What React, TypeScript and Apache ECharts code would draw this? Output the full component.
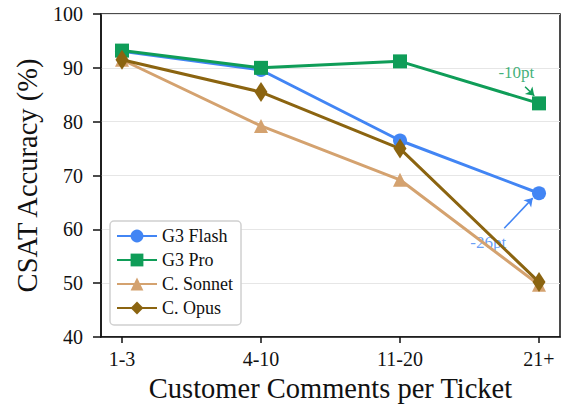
import React, { useEffect, useRef } from "react";
import * as echarts from "echarts";

const categories = ["1-3", "4-10", "11-20", "21+"];
const g3Flash = [93.1, 89.6, 76.5, 66.7];
const g3Pro = [93.2, 90.0, 91.2, 83.4];
const cSonnet = [91.5, 79.2, 69.2, 49.7];
const cOpus = [91.5, 85.5, 75.0, 50.2];

const FONT = "Liberation Serif";

export default function App() {
  const ref = useRef<HTMLDivElement>(null);
  useEffect(() => {
    const chart = echarts.init(ref.current!, null, { renderer: "svg" });
    const mk = (name: string, data: number[], color: string, symbol: string, size: any) => ({
      name,
      type: "line",
      data: data.map((v, i) => [i, v]),
      symbol,
      symbolSize: size,
      itemStyle: { color },
      lineStyle: { color, width: 3 },
      z: 3,
    });
    chart.setOption({
      animation: false,
      textStyle: { fontFamily: FONT },
      grid: { left: 101, right: 2, top: 14, bottom: 70, show: true, borderColor: "#111", borderWidth: 1.5 },
      xAxis: {
        type: "value",
        min: -0.151,
        max: 3.151,
        interval: 1,
        name: "Customer Comments per Ticket",
        nameLocation: "middle",
        nameGap: 37,
        nameTextStyle: { fontSize: 28.5, color: "#111", fontFamily: FONT },
        axisLine: { show: true, onZero: false, lineStyle: { color: "#111", width: 1.5 } },
        axisTick: { show: true, length: 6, lineStyle: { color: "#111", width: 1.5 }, customValues: [0, 1, 2, 3] },
        axisLabel: {
          fontSize: 20,
          color: "#111",
          fontFamily: FONT,
          margin: 12,
          customValues: [0, 1, 2, 3],
          formatter: (v: number) => categories[Math.round(v)] ?? "",
        },
        splitLine: { show: false },
      },
      yAxis: {
        type: "value",
        min: 40,
        max: 100,
        interval: 10,
        name: "CSAT Accuracy (%)",
        nameLocation: "middle",
        nameGap: 57,
        nameTextStyle: { fontSize: 28.5, color: "#111", fontFamily: FONT },
        axisLine: { show: true, onZero: false, lineStyle: { color: "#111", width: 1.5 } },
        axisTick: { show: true, length: 8, lineStyle: { color: "#111", width: 1.5 } },
        axisLabel: { fontSize: 20, color: "#111", fontFamily: FONT, margin: 18 },
        splitLine: { show: true, lineStyle: { color: "#e6e6e6", width: 1 } },
      },
      legend: {
        orient: "vertical",
        left: 110,
        top: 221,
        padding: [6, 8, 8, 6],
        itemGap: 6,
        itemWidth: 40,
        itemHeight: 16,
        borderColor: "#d0d0d0",
        borderWidth: 1.5,
        borderRadius: 4,
        backgroundColor: "#fff",
        textStyle: { fontSize: 18, color: "#111", fontFamily: FONT },
        data: ["G3 Flash", "G3 Pro", "C. Sonnet", "C. Opus"],
      },
      series: [
        mk("G3 Flash", g3Flash, "#4285F4", "circle", 14),
        mk("G3 Pro", g3Pro, "#0F9D58", "rect", 14),
        mk("C. Sonnet", cSonnet, "#D4A26F", "triangle", 14),
        mk("C. Opus", cOpus, "#8B6410", "diamond", [13, 20]),
        {
          type: "scatter",
          silent: true,
          symbolSize: 0,
          z: 2,
          data: [
            { value: [2.837, 89.1], label: { show: true, formatter: "-10pt", color: "#0F9D58", fontSize: 17, fontFamily: FONT } },
            { value: [2.635, 57.6], label: { show: true, formatter: "-26pt", color: "#4285F4", fontSize: 17, fontFamily: FONT } },
          ],
          label: { position: "inside" },
          markLine: {
            silent: true,
            symbol: ["none", "arrow"],
            symbolSize: 8,
            label: { show: false },
            data: [
              [
                { coord: [2.9, 86.5], lineStyle: { color: "#0F9D58", width: 1.5, type: "solid" } },
                { coord: [2.966, 84.8] },
              ],
              [
                { coord: [2.75, 60.2], lineStyle: { color: "#4285F4", width: 1.5, type: "solid" } },
                { coord: [2.955, 65.8] },
              ],
            ],
          },
        },
      ],
    });
    return () => chart.dispose();
  }, []);
  return <div ref={ref} style={{ width: 562, height: 408, position: "absolute", left: 0, top: 0 }} />;
}
